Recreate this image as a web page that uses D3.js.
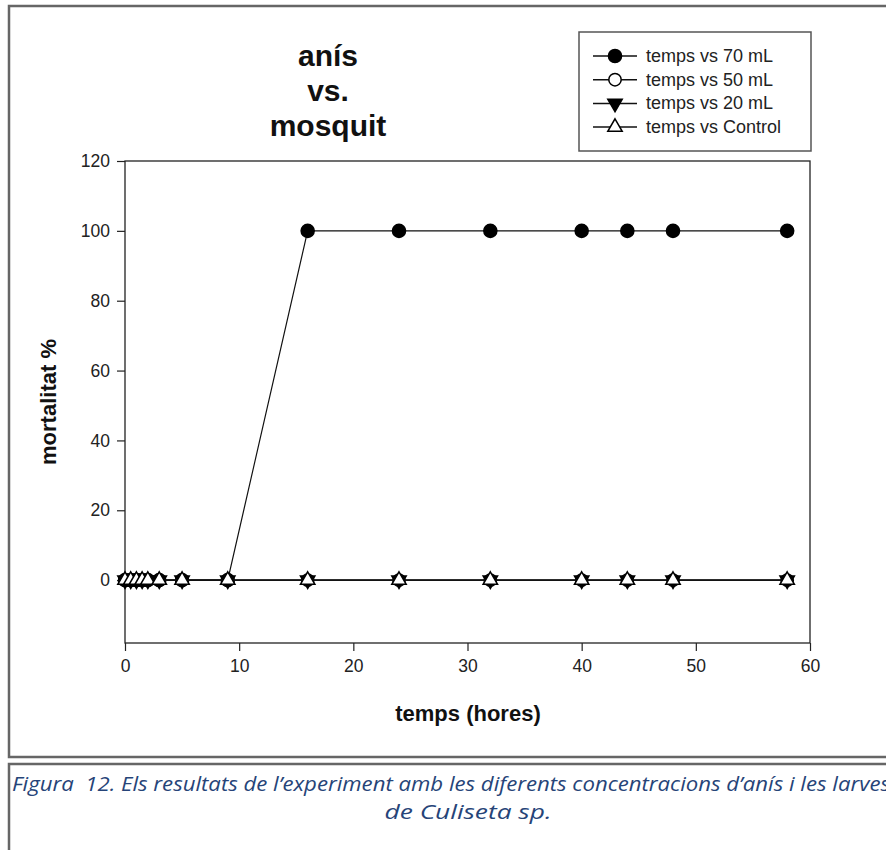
<!DOCTYPE html>
<head>
<meta charset="utf-8">
<title>anís vs. mosquit</title>
<script type="text/javascript" src="https://d3js.org/d3.v7.min.js"></script>
<style>
  body { margin: 0; background: #fff; }
  svg { display: block; font-family: "Liberation Sans", Arial, sans-serif; }
  .axis text { font-size: 17.5px; fill: #222; }
  .axis line { stroke: #222; stroke-width: 1.2; }
  .caption { white-space: pre; }
</style>
</head>
<body>
<div id="container"></div>

<script>
//------------------------DATA------------------------//
const times   = [0, 0.5, 1, 1.5, 2, 3, 5, 9, 16, 24, 32, 40, 44, 48, 58];
const ml70    = [0, 0, 0, 0, 0, 0, 0, 0, 100, 100, 100, 100, 100, 100, 100];
const ml50    = [0, 0, 0, 0, 0, 0, 0, 0, 0, 0, 0, 0, 0, 0, 0];
const ml20    = [0, 0, 0, 0, 0, 0, 0, 0, 0, 0, 0, 0, 0, 0, 0];
const control = [0, 0, 0, 0, 0, 0, 0, 0, 0, 0, 0, 0, 0, 0, 0];
const seriesNames = ["temps vs 70 mL", "temps vs 50 mL", "temps vs 20 mL", "temps vs Control"];
const xTicks = [0, 10, 20, 30, 40, 50, 60];
const yTicks = [0, 20, 40, 60, 80, 100, 120];

const width = 886;
const height = 850;

const svg = d3.select("div#container").append("svg")
    .attr("width", width)
    .attr("height", height);

//------------------------FRAMES------------------------//
svg.append("rect")
    .attr("x", 9).attr("y", 6)
    .attr("width", 905).attr("height", 751)
    .attr("fill", "none")
    .attr("stroke", "#666").attr("stroke-width", 2.5);

svg.append("rect")
    .attr("x", 9).attr("y", 764)
    .attr("width", 905).attr("height", 100)
    .attr("fill", "none")
    .attr("stroke", "#666").attr("stroke-width", 2.5);

//------------------------SCALES------------------------//
const xScale = d3.scaleLinear().domain([0, 60]).range([125, 810]);
const yScale = d3.scaleLinear().domain([-18, 120]).range([643, 161]);

//------------------------AXES------------------------//
const xaxis = d3.axisBottom(xScale).tickValues(xTicks).tickSize(8).tickPadding(9);
const yaxis = d3.axisLeft(yScale).tickValues(yTicks).tickSize(8).tickPadding(7);

svg.append("g")
    .attr("class", "axis")
    .attr("transform", "translate(0," + yScale.range()[0] + ")")
    .call(xaxis)
    .call(g => g.select(".domain").remove());

svg.append("g")
    .attr("class", "axis")
    .attr("transform", "translate(" + xScale.range()[0] + ",0)")
    .call(yaxis)
    .call(g => g.select(".domain").remove());

// plot frame
svg.append("rect")
    .attr("x", xScale.range()[0])
    .attr("y", yScale.range()[1])
    .attr("width", xScale.range()[1] - xScale.range()[0])
    .attr("height", yScale.range()[0] - yScale.range()[1])
    .attr("fill", "none")
    .attr("stroke", "#222").attr("stroke-width", 1.3);

//------------------------SERIES------------------------//
const symbols = [
  { type: d3.symbolCircle, size: 135, fill: "#000" },
  { type: d3.symbolCircle, size: 120, fill: "#fff" },
  { type: d3.symbolTriangle, size: 90, fill: "#000", rotate: 180 },
  { type: d3.symbolTriangle, size: 90, fill: "#fff", rotate: 0 }
];

const series = [ml70, ml50, ml20, control].map((vals, i) => ({
  name: seriesNames[i],
  sym: symbols[i],
  values: times.map((t, j) => ({ t: t, v: vals[j] }))
}));

const line = d3.line()
    .x(d => xScale(d.t))
    .y(d => yScale(d.v));

function drawMarker(g, sym, x, y) {
  g.append("path")
    .attr("d", d3.symbol().type(sym.type).size(sym.size))
    .attr("transform", "translate(" + x + "," + y + ")" + (sym.rotate ? " rotate(" + sym.rotate + ")" : ""))
    .attr("fill", sym.fill)
    .attr("stroke", "#000")
    .attr("stroke-width", 1.5);
}

series.forEach(s => {
  const g = svg.append("g");
  g.append("path")
    .attr("d", line(s.values))
    .attr("fill", "none")
    .attr("stroke", "#111")
    .attr("stroke-width", 1.2);
  s.values.forEach(d => drawMarker(g, s.sym, xScale(d.t), yScale(d.v)));
});

//------------------------TITLE & LABELS------------------------//
const title = svg.append("text")
    .attr("text-anchor", "middle")
    .attr("font-size", "30px")
    .attr("font-weight", "bold")
    .attr("fill", "#111");
["anís", "vs.", "mosquit"].forEach((t, i) => {
  title.append("tspan").attr("x", 328).attr("y", 66 + i * 35).text(t);
});

svg.append("text")
    .attr("transform", "translate(56,402) rotate(-90)")
    .attr("text-anchor", "middle")
    .attr("font-size", "22px")
    .attr("font-weight", "bold")
    .attr("fill", "#111")
    .text("mortalitat %");

svg.append("text")
    .attr("x", 468).attr("y", 721)
    .attr("text-anchor", "middle")
    .attr("font-size", "22px")
    .attr("font-weight", "bold")
    .attr("fill", "#111")
    .text("temps (hores)");

//------------------------LEGEND------------------------//
svg.append("rect")
    .attr("x", 579).attr("y", 32)
    .attr("width", 232).attr("height", 119)
    .attr("fill", "#fff")
    .attr("stroke", "#555").attr("stroke-width", 1.5);

series.forEach((s, i) => {
  const ly = 56 + i * 23.7;
  const g = svg.append("g");
  g.append("line")
    .attr("x1", 593).attr("x2", 637)
    .attr("y1", ly).attr("y2", ly)
    .attr("stroke", "#111").attr("stroke-width", 1.5);
  drawMarker(g, s.sym, 615, ly);
  g.append("text")
    .attr("x", 646).attr("y", ly + 6)
    .attr("font-size", "18px")
    .attr("fill", "#222")
    .text(s.name);
});

//------------------------CAPTION------------------------//
svg.append("text")
    .attr("class", "caption")
    .attr("x", 12).attr("y", 791)
    .attr("font-family", "'Liberation Sans Narrow', 'Open Sans', sans-serif")
    .attr("font-style", "italic")
    .attr("font-size", "20px")
    .attr("fill", "#264478")
    .attr("textLength", 878)
    .attr("lengthAdjust", "spacingAndGlyphs")
    .text("Figura  12. Els resultats de l’experiment amb les diferents concentracions d’anís i les larves");

svg.append("text")
    .attr("class", "caption")
    .attr("x", 468).attr("y", 819)
    .attr("text-anchor", "middle")
    .attr("font-family", "'Liberation Sans Narrow', 'Open Sans', sans-serif")
    .attr("font-style", "italic")
    .attr("font-size", "20px")
    .attr("fill", "#264478")
    .attr("textLength", 167)
    .attr("lengthAdjust", "spacingAndGlyphs")
    .text("de Culiseta sp.");
</script>
</body>
